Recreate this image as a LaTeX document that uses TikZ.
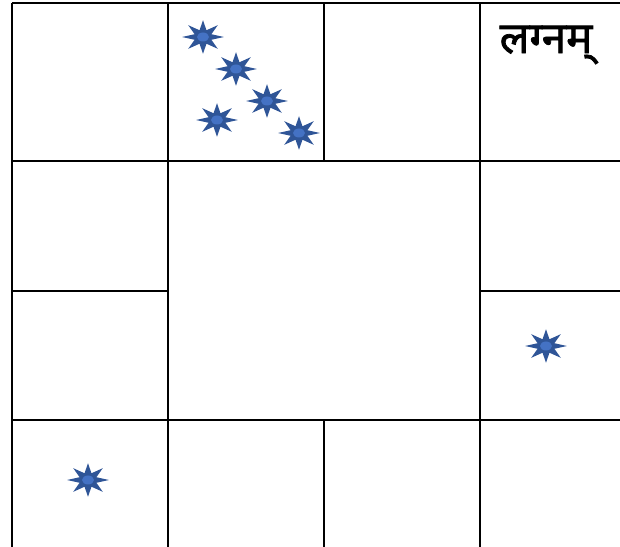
\documentclass[tikz,border=0pt]{standalone}
\usepackage{fontspec}
\newfontfamily\devafont[Script=Devanagari,FakeBold=1.6]{Noto Sans}
\usepackage{xcolor}
\usepackage{tikz}
\usetikzlibrary{shapes.geometric,positioning}
\definecolor{JKStar}  {HTML}{2F5597}
\definecolor{JKCore}  {HTML}{4472C4}
\definecolor{JKLine}  {HTML}{000000}

\tikzset{
  planet/.style={star,star points=8,star point ratio=2.3,fill=JKStar,
    minimum size=0.67cm,inner sep=0pt,transform shape,xscale=1.25},
  core/.style={fill=JKCore},
  gridline/.style={JKLine,line width=1.6pt}
}

\begin{document}
\begin{tikzpicture}[x=0.02cm,y=-0.02cm]
    \useasboundingbox (0,0) rectangle (620,547);
    % Grid lines
    \draw[gridline] (12,3)   -- (620,3);
    \draw[gridline] (12,161) -- (620,161);
    \draw[gridline] (12,291) -- (168,291);
    \draw[gridline] (480,291) -- (620,291);
    \draw[gridline] (12,420) -- (620,420);
    \draw[gridline] (12,3)   -- (12,547);
    \draw[gridline] (168,3)  -- (168,547);
    \draw[gridline] (324,3)  -- (324,161);
    \draw[gridline] (324,420) -- (324,547);
    \draw[gridline] (480,3)  -- (480,547);

    % Lagna label
    \node[font=\devafont\fontsize{25}{30}\selectfont] (lagna) at (546,45) {लग्नम्};

    % Planets
    \node[planet] (p1) at (203,37)  {};
    \node[planet] (p2) at (236,69)  {};
    \node[planet] (p3) at (267,101) {};
    \node[planet] (p4) at (217,120) {};
    \node[planet] (p5) at (299,133) {};
    \node[planet] (p6) at (546,346) {};
    \node[planet] (p7) at (88,480)  {};
    \foreach \p in {p1,p2,p3,p4,p5,p6,p7}
      \fill[core] (\p.center) ellipse (6 and 4.5);
  \end{tikzpicture}
\end{document}
